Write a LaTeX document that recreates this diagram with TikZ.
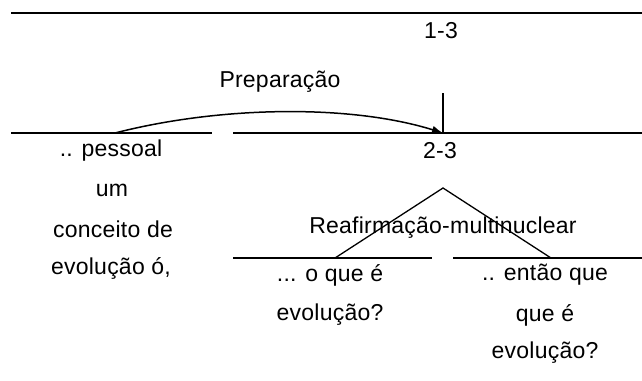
\documentclass[tikz,border=0pt]{standalone}
\usepackage{fontspec}
\setmainfont{Liberation Sans}[LetterSpace=1]
\usetikzlibrary{arrows.meta}
\begin{document}
\begin{tikzpicture}[x=1pt,y=-1pt,
  ln/.style={line width=1.6pt},
  lbl/.style={font=\fontsize{23}{25}\selectfont,inner sep=0pt,anchor=center}]
\useasboundingbox (0,0) rectangle (642,380);
% lines
\coordinate (t1) at (11,13); \coordinate (t2) at (642,13);
\coordinate (m1) at (11,133); \coordinate (m2) at (212,133);
\coordinate (m3) at (233,133); \coordinate (m4) at (642,133);
\coordinate (l1) at (233,258); \coordinate (l2) at (432,258);
\coordinate (l3) at (453,258); \coordinate (l4) at (642,258);
\coordinate (vtop) at (443,93); \coordinate (vbot) at (443,133);
\coordinate (arcs) at (115,133);
\coordinate (apex) at (443,188);
\coordinate (fl) at (335,258); \coordinate (fr) at (551,258);
\draw[ln] (t1) -- (t2);
\draw[ln] (m1) -- (m2);
\draw[ln] (m3) -- (m4);
\draw[ln] (l1) -- (l2);
\draw[ln] (l3) -- (l4);
\draw[line width=1.3pt] (vtop) -- (vbot);
\draw[line width=1.5pt,-{Latex[length=11pt,width=8pt]}] (arcs) .. controls (220,106) and (350,104) .. (vbot);
\draw[line width=1.3pt] (fl) -- (apex) -- (fr);
% texts
\node[lbl] (n13) at (441,31) {1-3};
\node[lbl] (prep) at (280,82) {Preparação};
\node[lbl] (n23) at (440,151) {2-3};
\node[lbl] (p1) at (111,151) {.. pessoal};
\node[lbl] (p2) at (112,190) {um};
\node[lbl] (p3) at (113,229) {conceito de};
\node[lbl] (p4) at (111,268) {evolução ó,};
\node[lbl] (reaf) at (443,228) {Reafirmação-multinuclear};
\node[lbl] (o1) at (330,275) {... o que é};
\node[lbl] (o2) at (330,315) {evolução?};
\node[lbl] (e1) at (545,275) {.. então que};
\node[lbl] (e2) at (545,315) {que é};
\node[lbl] (e3) at (545,353) {evolução?};
\end{tikzpicture}
\end{document}
